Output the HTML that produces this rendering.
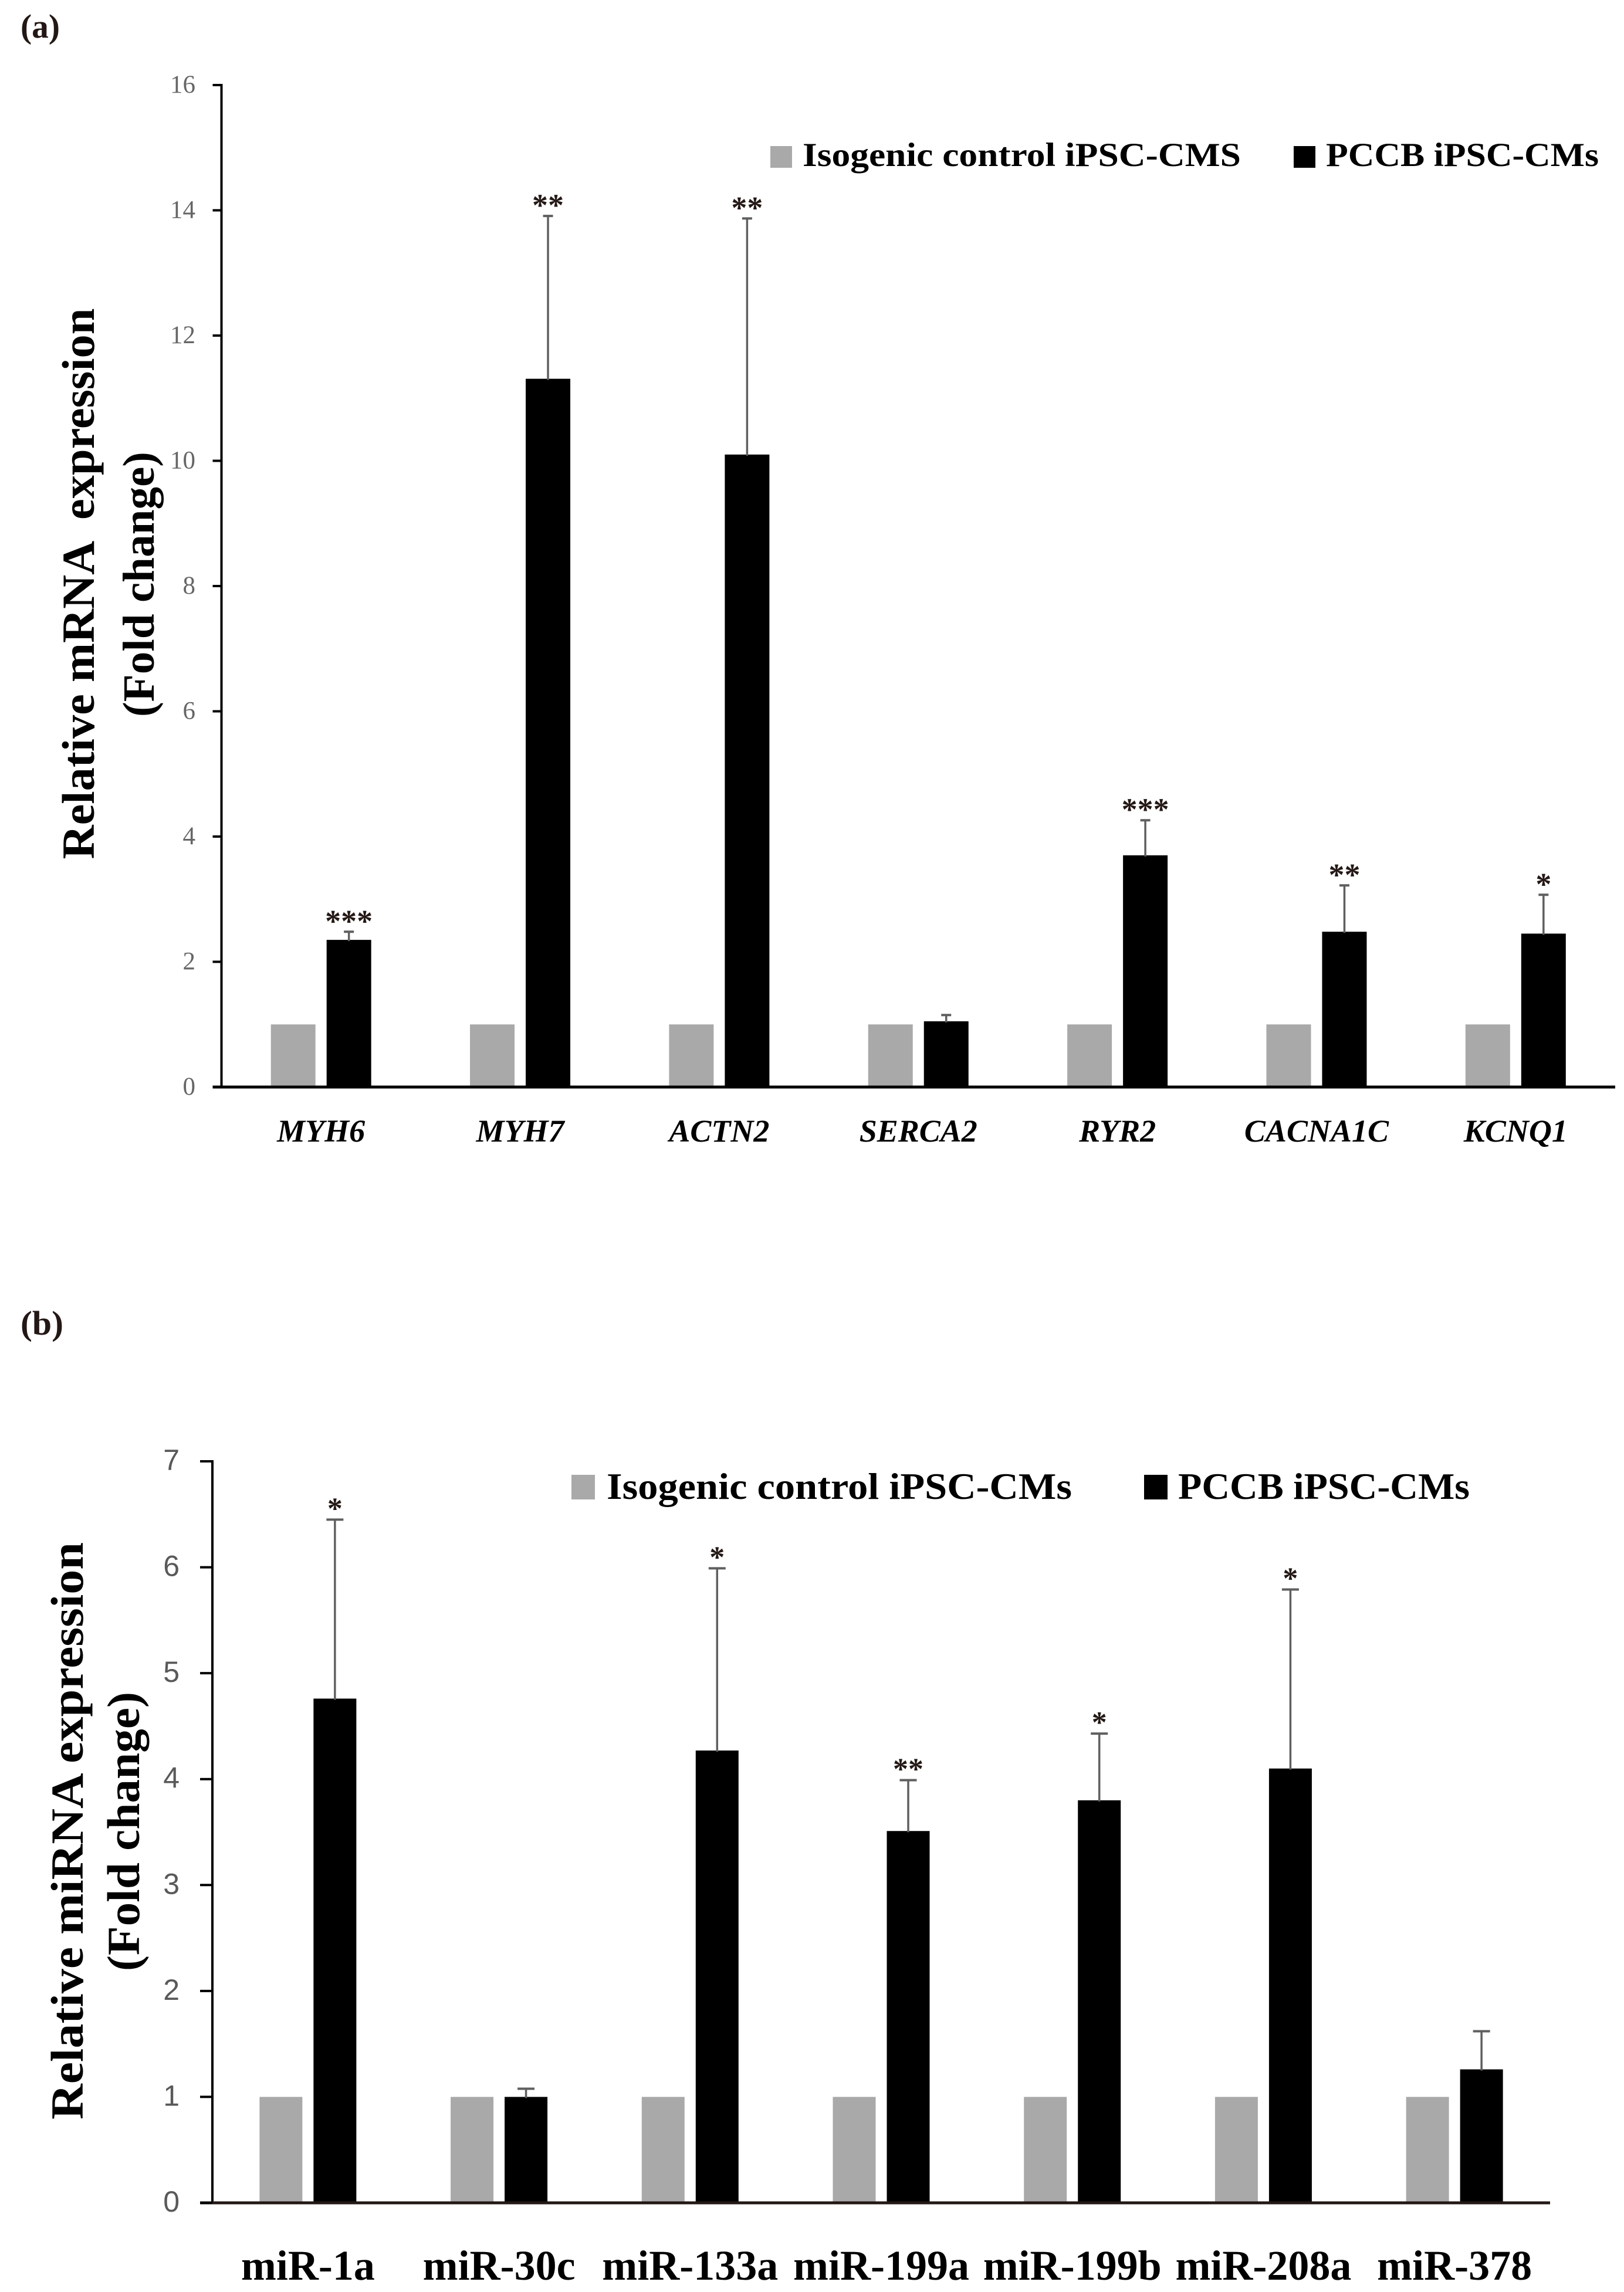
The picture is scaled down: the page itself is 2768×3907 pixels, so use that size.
<!DOCTYPE html>
<html lang="en">
<head>
<meta charset="utf-8">
<title>Relative mRNA and miRNA expression</title>
<style>
html,body{margin:0;padding:0;background:#fff;}
svg{display:block;}
text{font-family:"Liberation Serif",serif;}
</style>
</head>
<body>
<svg id="figure" xmlns="http://www.w3.org/2000/svg" width="2768" height="3907" viewBox="0 0 2768 3907">
  <rect x="0" y="0" width="2768" height="3907" fill="#ffffff"/>

  <text x="35" y="64" font-size="57" font-weight="bold" fill="#231815" textLength="67" lengthAdjust="spacingAndGlyphs">(a)</text>
  <g id="chartA"></g>
  <text transform="translate(160,995) rotate(-90)" text-anchor="middle" font-size="78" font-weight="bold" fill="#000" textLength="939" lengthAdjust="spacingAndGlyphs" xml:space="preserve">Relative mRNA  expression</text>
  <text transform="translate(262,996) rotate(-90)" text-anchor="middle" font-size="76" font-weight="bold" fill="#000" textLength="452" lengthAdjust="spacingAndGlyphs">(Fold change)</text>
  <g>
    <rect x="1313" y="249" width="37" height="37" fill="#a9a9a9"/>
    <text x="1368" y="283" font-size="57" font-weight="bold" fill="#000" textLength="747" lengthAdjust="spacingAndGlyphs">Isogenic control iPSC-CMS</text>
    <rect x="2205" y="249" width="37" height="37" fill="#000"/>
    <text x="2260" y="283" font-size="57" font-weight="bold" fill="#000" textLength="465" lengthAdjust="spacingAndGlyphs">PCCB iPSC-CMs</text>
  </g>

  <text x="35" y="2275" font-size="58" font-weight="bold" fill="#231815" textLength="73" lengthAdjust="spacingAndGlyphs">(b)</text>
  <g id="chartB"></g>
  <text transform="translate(141,3121) rotate(-90)" text-anchor="middle" font-size="78" font-weight="bold" fill="#000" textLength="984" lengthAdjust="spacingAndGlyphs">Relative miRNA expression</text>
  <text transform="translate(237,3122) rotate(-90)" text-anchor="middle" font-size="78" font-weight="bold" fill="#000" textLength="476" lengthAdjust="spacingAndGlyphs">(Fold change)</text>
  <g>
    <rect x="974" y="2514" width="40" height="42" fill="#a9a9a9"/>
    <text x="1034" y="2555" font-size="64" font-weight="bold" fill="#000" textLength="793" lengthAdjust="spacingAndGlyphs">Isogenic control iPSC-CMs</text>
    <rect x="1950" y="2514" width="40" height="42" fill="#000"/>
    <text x="2008" y="2555" font-size="64" font-weight="bold" fill="#000" textLength="497" lengthAdjust="spacingAndGlyphs">PCCB iPSC-CMs</text>
  </g>
</svg>

<script>
// Panel (a) data: mRNA fold change
const geneCategories = ['MYH6', 'MYH7', 'ACTN2', 'SERCA2', 'RYR2', 'CACNA1C', 'KCNQ1'];
const geneControl = [1, 1, 1, 1, 1, 1, 1];
const genePccb = [2.35, 11.31, 10.1, 1.05, 3.7, 2.48, 2.45];
const geneError = [0.13, 2.6, 3.77, 0.1, 0.56, 0.74, 0.62];
const geneStars = ['***', '**', '**', '', '***', '**', '*'];
const geneTicks = [0, 2, 4, 6, 8, 10, 12, 14, 16];

// Panel (b) data: miRNA fold change
const mirCategories = ['miR-1a', 'miR-30c', 'miR-133a', 'miR-199a', 'miR-199b', 'miR-208a', 'miR-378'];
const mirControl = [1, 1, 1, 1, 1, 1, 1];
const mirPccb = [4.76, 1.0, 4.27, 3.51, 3.8, 4.1, 1.26];
const mirError = [1.69, 0.077, 1.72, 0.48, 0.63, 1.69, 0.36];
const mirStars = ['*', '', '*', '**', '*', '*', ''];
const mirTicks = [0, 1, 2, 3, 4, 5, 6, 7];

const SVG_NS = 'http://www.w3.org/2000/svg';

function make(parent, tag, attrs, text) {
  const el = document.createElementNS(SVG_NS, tag);
  for (const k in attrs) el.setAttribute(k, attrs[k]);
  if (text !== undefined) el.textContent = text;
  parent.appendChild(el);
  return el;
}

function drawChart(o) {
  const yScale = v => o.y0 - (v - 0) * (o.y0 - o.yTop) / o.yMax;
  const band = (o.xEnd - o.x0) / o.categories.length;
  const xCenter = i => o.x0 + band * (i + 0.5);

  // bars, error bars, stars, category labels
  o.categories.forEach((cat, i) => {
    const c = xCenter(i);
    const greyX = c - o.gap / 2 - o.barW;
    const blackX = c + o.gap / 2;

    const controlBar = make(o.root, 'rect', {x: greyX, y: yScale(o.control[i]), width: o.barW, height: o.y0 - yScale(o.control[i]), fill: '#a9a9a9'});
    
    

    const pccbBar = make(o.root, 'rect', {x: blackX, y: yScale(o.pccb[i]), width: o.barW, height: o.y0 - yScale(o.pccb[i]), fill: '#000'});
    
    

    const ex = blackX + o.barW / 2;
    const capY = yScale(o.pccb[i] + o.error[i]);

    const stem = make(o.root, 'line', {x1: ex, x2: ex, y1: yScale(o.pccb[i]) + 2, y2: capY, stroke: '#5f5f5f', 'stroke-width': 3.5});
    
    

    const cap = make(o.root, 'line', {x1: ex - o.capW / 2, x2: ex + o.capW / 2, y1: capY, y2: capY, stroke: '#5f5f5f', 'stroke-width': 4});
    
    

    if (o.stars[i]) {
      const star = make(o.root, 'text', {x: ex, y: capY + o.starDy, 'text-anchor': 'middle', 'font-size': o.starSize, 'font-weight': 'bold', fill: '#231815'}, o.stars[i]);
      
      
    }

    const lab = make(o.root, 'text', {x: c, y: o.labelY, 'text-anchor': 'middle', 'font-size': o.labelSize, 'font-weight': 'bold', 'font-style': o.labelStyle, fill: '#000'}, cat);
    
    
  });

  // y axis line
  const axis = make(o.root, 'line', {x1: o.x0, x2: o.x0, y1: yScale(o.yMax) - 2, y2: o.y0, stroke: '#000', 'stroke-width': 4});
  
  

  // baseline
  const base = make(o.root, 'line', {x1: o.x0 - o.tickLen, x2: o.xEnd, y1: o.y0, y2: o.y0, stroke: o.baseColor, 'stroke-width': 5});
  
  

  // ticks
  o.ticks.forEach(t => {
    const ty = yScale(t);
    const tick = make(o.root, 'line', {x1: o.x0 - o.tickLen, x2: o.x0, y1: ty, y2: ty, stroke: '#000', 'stroke-width': 4});
    
    

    const label = make(o.root, 'text', {x: o.tickLabelX, y: ty + o.tickLabelDy, 'text-anchor': 'end', 'font-size': o.tickSize, fill: o.tickColor, style: 'font-family:' + o.tickFont});
    label.textContent = t;
    
    
  });
}

drawChart({
  root: document.getElementById('chartA'),
  categories: geneCategories, control: geneControl, pccb: genePccb, error: geneError, stars: geneStars, ticks: geneTicks,
  x0: 377.5, xEnd: 2753, y0: 1853, yTop: 145, yMax: 16,
  barW: 76, gap: 19, capW: 17,
  starSize: 54, starDy: 0,
  labelY: 1946, labelSize: 54, labelStyle: 'italic',
  tickLen: 15, tickLabelX: 333, tickLabelDy: 13, tickSize: 43, tickColor: '#666666',
  tickFont: '"Liberation Serif",serif', baseColor: '#000'
});

drawChart({
  root: document.getElementById('chartB'),
  categories: mirCategories, control: mirControl, pccb: mirPccb, error: mirError, stars: mirStars, ticks: mirTicks,
  x0: 362, xEnd: 2642, y0: 3755, yTop: 2491, yMax: 7,
  barW: 73, gap: 19, capW: 29,
  starSize: 52, starDy: -2,
  labelY: 3886, labelSize: 72, labelStyle: 'normal',
  tickLen: 21, tickLabelX: 306, tickLabelDy: 15, tickSize: 50, tickColor: '#595959',
  tickFont: '"Liberation Sans",sans-serif', baseColor: '#231815'
});
</script>
</body>
</html>
